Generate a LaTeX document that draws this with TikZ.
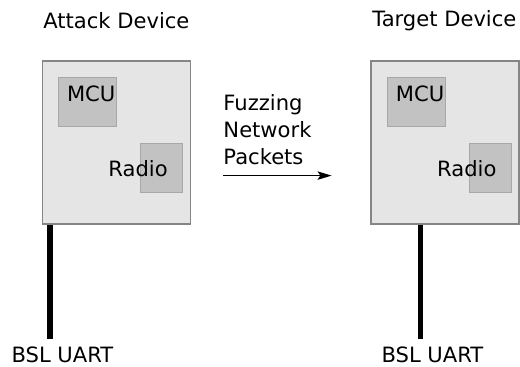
\documentclass[tikz,border=0pt]{standalone}
\usepackage{fontspec}
\setmainfont{DejaVu Sans}
\usepackage{tikz}
\usetikzlibrary{arrows.meta,positioning}

\definecolor{devfill}{HTML}{E5E5E5}
\definecolor{devedge}{HTML}{858585}
\definecolor{chipfill}{HTML}{C2C2C2}
\definecolor{chipedge}{HTML}{A8A8A8}

\begin{document}
\begin{tikzpicture}[
    device/.style={draw=devedge, fill=devfill, line width=1.1pt,
                   minimum width=3.70cm, minimum height=4.07cm, inner sep=0pt},
    chip/.style={draw=chipedge, fill=chipfill, line width=0.7pt, inner sep=0pt},
    lbl/.style={font=\fontsize{15}{19}\selectfont, inner sep=0pt},
    wire/.style={line width=3.6pt}]

    \useasboundingbox (0,0) rectangle (13,9.15);

    % Devices
    \node[device] (attack) at (2.91,5.59) {};
    \node[device] (target) at (11.13,5.59) {};
    \node[lbl] (attacktitle) at (2.91,8.64) {Attack Device};
    \node[lbl] (targettitle) at (11.11,8.64) {Target Device};

    % Chips
    \node[chip, minimum width=1.45cm, minimum height=1.22cm] (mcuA) at (2.19,6.60) {};
    \node[chip, minimum width=1.05cm, minimum height=1.22cm] (radioA) at (4.04,4.95) {};
    \node[chip, minimum width=1.45cm, minimum height=1.22cm] (mcuT) at (10.41,6.60) {};
    \node[chip, minimum width=1.05cm, minimum height=1.22cm] (radioT) at (12.26,4.95) {};
    \node[lbl] (mcuAtext) at (2.28,6.80) {MCU};
    \node[lbl] (radioAtext) at (3.45,4.93) {Radio};
    \node[lbl] (mcuTtext) at (10.50,6.80) {MCU};
    \node[lbl] (radioTtext) at (11.67,4.93) {Radio};

    % Packets
    \node[lbl, anchor=north west, align=left] (fuzz) at (5.58,6.79)
        {Fuzzing\\Network\\Packets};
    \coordinate (sendA) at (5.58,4.76);
    \coordinate (sendT) at (8.29,4.76);
    \draw[-{Stealth[length=10pt, width=6pt, inset=2pt]}, line width=0.75pt] (sendA) -- (sendT);

    % UART lines
    \coordinate (uartA) at (1.25,0.67);
    \coordinate (uartT) at (10.52,0.67);
    \draw[wire] (uartA) -- (uartA |- attack.south);
    \draw[wire] (uartT) -- (uartT |- target.south);
    \node[lbl] (bslA) at (1.56,0.275) {BSL UART};
    \node[lbl] (bslT) at (10.81,0.275) {BSL UART};
\end{tikzpicture}
\end{document}
